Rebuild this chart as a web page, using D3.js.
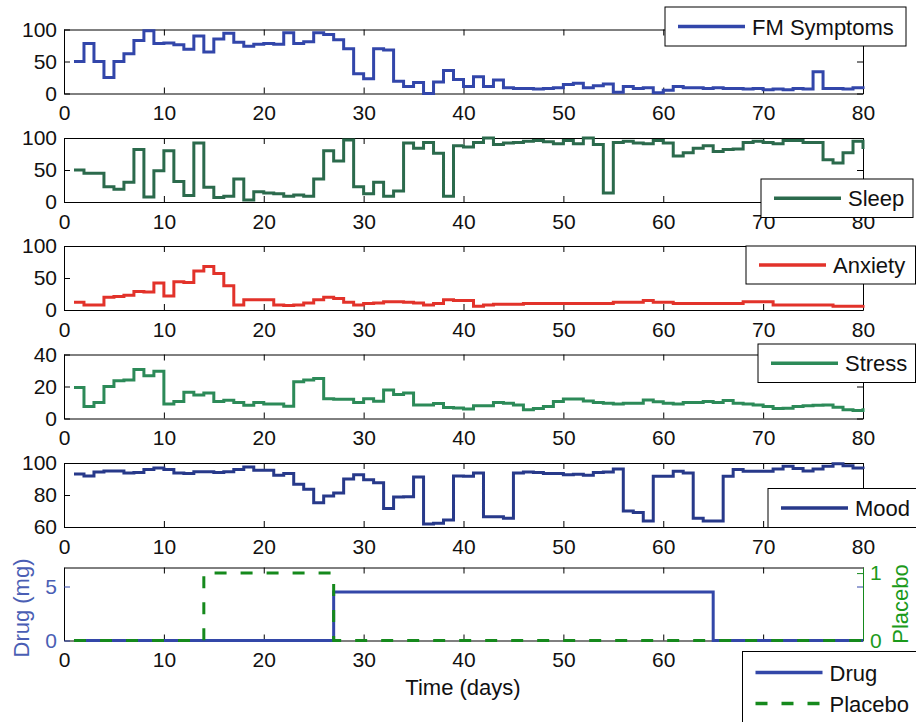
<!DOCTYPE html>
<html>
<head>
<meta charset="utf-8">
<script src="https://cdn.jsdelivr.net/npm/d3@7"></script>
<style>
  body { margin: 0; background: #fff; }
  svg text { font-family: "Liberation Sans", Arial, Helvetica, sans-serif; }
</style>
</head>
<body>
<svg id="chart" width="916" height="722"></svg>
<script>
/* Daily self-report traces (days 1..80) plus drug / placebo schedule */

const days = d3.range(1, 81);
const xTickValues = [0, 10, 20, 30, 40, 50, 60, 70, 80];
// bottom panel: 70 and 80 sit under the legend box, so they carry no label
const xTickLabelsBottom = [0, 10, 20, 30, 40, 50, 60];

const fmSymptoms = [
  50, 78, 50, 25, 50, 62, 83, 98, 78, 79,
  76, 69, 90, 65, 85, 94, 80, 74, 77, 78,
  77, 95, 78, 81, 95, 92, 84, 70, 31, 23,
  70, 68, 19, 11, 17, 0, 18, 36, 22, 11,
  26, 11, 21, 9, 8, 8, 7, 8, 9, 14,
  16, 9, 12, 15, 2, 11, 8, 9, 1, 5,
  11, 9, 9, 8, 9, 8, 8, 7, 8, 6,
  7, 6, 8, 7, 34, 8, 8, 7, 9, 7
];

const sleep = [
  50, 45, 45, 24, 20, 31, 82, 8, 49, 80,
  32, 10, 92, 23, 7, 9, 36, 3, 16, 14,
  13, 9, 11, 9, 36, 80, 64, 97, 24, 13,
  31, 9, 17, 92, 84, 93, 76, 9, 88, 86,
  93, 100, 90, 92, 93, 95, 96, 94, 91, 96,
  91, 100, 90, 14, 93, 95, 92, 91, 96, 92,
  72, 77, 84, 88, 79, 82, 83, 93, 95, 93,
  91, 96, 96, 93, 93, 66, 61, 77, 95, 83
];

const anxiety = [
  12, 8, 8, 20, 21, 23, 29, 28, 42, 22,
  44, 43, 61, 68, 57, 38, 8, 16, 16, 16,
  8, 7, 8, 11, 16, 20, 18, 12, 8, 10,
  11, 13, 13, 12, 11, 8, 10, 16, 15, 15,
  6, 8, 9, 9, 9, 10, 10, 10, 10, 10,
  10, 10, 10, 10, 12, 12, 12, 15, 12, 12,
  10, 10, 10, 10, 10, 10, 10, 13, 13, 13,
  8, 8, 8, 8, 8, 8, 6, 6, 6, 8
];

const stress = [
  19.3, 7.5, 10, 20, 23.6, 24, 30.7, 26.7, 29.6, 9,
  10.6, 16.4, 14.7, 16, 10.6, 11.4, 10, 8.3, 10, 9,
  9, 7.7, 23, 24, 25, 12.4, 12, 12, 10, 12.4,
  10.8, 17.8, 15, 16, 8.5, 8.5, 9.3, 6.8, 6.6, 6,
  7.9, 7.9, 10, 9.5, 8.5, 5.4, 6.2, 7.5, 10.6, 12.2,
  12.2, 11, 10, 9.5, 9, 9.5, 9.5, 11.6, 10.4, 9.5,
  9, 10, 10, 10.6, 10, 11.2, 9.5, 9, 8.5, 7.5,
  6.2, 6.4, 7.5, 7.9, 8.3, 8.5, 7, 5.4, 5, 6.4
];

const mood = [
  93.2, 91.9, 94.4, 95, 95, 93.8, 94, 95.9, 96.9, 95.9,
  93.8, 93.4, 94.6, 94.6, 94, 94.6, 96, 97.5, 95.4, 95.4,
  92.3, 93.4, 86.7, 83.6, 75.1, 79.3, 81.3, 90, 92.7, 89.6,
  87.6, 71.6, 78.7, 78.9, 91.3, 61.9, 62.3, 64.4, 91.9, 91.7,
  93.8, 66.4, 66.4, 65.4, 93.8, 94.4, 94, 93.4, 93.4, 92.7,
  92.9, 92.3, 94, 94.4, 96.3, 70, 69.1, 63.7, 91.7, 91.7,
  94.8, 93.8, 65.4, 63.7, 63.7, 91.7, 95.9, 94.8, 94.8, 94.8,
  96.3, 97.9, 96.5, 95, 96.3, 97.9, 99.6, 98.3, 96.9, 96.3
];

const drugMg = [
  0, 0, 0, 0, 0, 0, 0, 0, 0, 0,
  0, 0, 0, 0, 0, 0, 0, 0, 0, 0,
  0, 0, 0, 0, 0, 0, 4.5, 4.5, 4.5, 4.5,
  4.5, 4.5, 4.5, 4.5, 4.5, 4.5, 4.5, 4.5, 4.5, 4.5,
  4.5, 4.5, 4.5, 4.5, 4.5, 4.5, 4.5, 4.5, 4.5, 4.5,
  4.5, 4.5, 4.5, 4.5, 4.5, 4.5, 4.5, 4.5, 4.5, 4.5,
  4.5, 4.5, 4.5, 4.5, 0, 0, 0, 0, 0, 0,
  0, 0, 0, 0, 0, 0, 0, 0, 0, 0
];

const placebo = [
  0, 0, 0, 0, 0, 0, 0, 0, 0, 0,
  0, 0, 0, 1, 1, 1, 1, 1, 1, 1,
  1, 1, 1, 1, 1, 1, 0, 0, 0, 0,
  0, 0, 0, 0, 0, 0, 0, 0, 0, 0,
  0, 0, 0, 0, 0, 0, 0, 0, 0, 0,
  0, 0, 0, 0, 0, 0, 0, 0, 0, 0,
  0, 0, 0, 0, 0, 0, 0, 0, 0, 0,
  0, 0, 0, 0, 0, 0, 0, 0, 0, 0
];

// colours
const cFM = "#3246aa", cSleep = "#2b6a4c", cAnx = "#e2322a",
  cStress = "#2c8a58", cMood = "#27398a", cDrug = "#3347a8", cPlacebo = "#15891c";

const svg = d3.select("#chart");
const x = d3.scaleLinear().domain([0, 80]).range([64, 863]);

// panel layout: top/bottom pixel, y domain, ticks, legend box
const panels = [
  { name: "FM Symptoms", values: fmSymptoms, color: cFM, top: 29.5, bottom: 93.5,
    domain: [0, 100], ticks: [0, 50, 100], box: [665, 7, 241, 39] },
  { name: "Sleep", values: sleep, color: cSleep, top: 138, bottom: 202,
    domain: [0, 100], ticks: [0, 50, 100], box: [761, 179, 152, 38.5] },
  { name: "Anxiety", values: anxiety, color: cAnx, top: 246, bottom: 310,
    domain: [0, 100], ticks: [0, 50, 100], box: [746, 246, 169.5, 38] },
  { name: "Stress", values: stress, color: cStress, top: 354.5, bottom: 418.5,
    domain: [0, 40], ticks: [0, 20, 40], box: [758, 344, 157.5, 38.5] },
  { name: "Mood", values: mood, color: cMood, top: 463, bottom: 527,
    domain: [60, 100], ticks: [60, 80, 100], box: [768, 488.5, 160, 39] }
];

const stairs = (yScale) => d3.line()
  .x((d) => x(d[0]))
  .y((d) => yScale(d[1]))
  .curve(d3.curveStepAfter);

function drawFrame(g, y, top, bottom, ticks, showLabels, xLabels) {
  const labelSet = xLabels || xTickValues;
  g.append("g")
    .attr("transform", `translate(0,${bottom})`)
    .call(d3.axisBottom(x).tickValues(xTickValues).tickSize(-6).tickSizeOuter(0).tickPadding(12)
      .tickFormat((d) => (labelSet.includes(d) ? d : "")));
  g.append("g")
    .attr("transform", `translate(0,${top})`)
    .call(d3.axisTop(x).tickValues(xTickValues).tickSize(-6).tickSizeOuter(0).tickFormat(""));
  if (showLabels) {
    g.append("g")
      .attr("transform", `translate(${x(0)},0)`)
      .call(d3.axisLeft(y).tickValues(ticks).tickSize(-6).tickSizeOuter(0).tickPadding(7));
    g.append("g")
      .attr("transform", `translate(${x(80)},0)`)
      .call(d3.axisRight(y).tickValues(ticks).tickSize(-6).tickSizeOuter(0).tickFormat(""));
  }
}

function styleAxes(g) {
  g.selectAll(".domain").attr("stroke", "#000").attr("stroke-width", 1);
  g.selectAll(".tick line").attr("stroke", "#000").attr("stroke-width", 1);
  g.selectAll(".tick text").attr("font-size", 21).attr("fill", "#111")
    .attr("font-family", '"Liberation Sans", Arial, sans-serif');
  g.selectAll(".tick text").filter(function () { return this.textContent === ""; }).remove();
}

function drawLegend(box, items) {
  const [bx, by, bw, bh] = box;
  const lg = svg.append("g");
  lg.append("rect").attr("x", bx).attr("y", by).attr("width", bw).attr("height", bh)
    .attr("fill", "#fff").attr("stroke", "#000").attr("stroke-width", 1);
  items.forEach((it) => {
    const ly = it.ly != null ? it.ly : by + bh / 2;
    lg.append("line")
      .attr("x1", bx + 13).attr("x2", bx + 80).attr("y1", ly).attr("y2", ly)
      .attr("stroke", it.color).attr("stroke-width", 3.5)
      .attr("stroke-dasharray", it.dash || null);
    lg.append("text")
      .attr("x", bx + 87).attr("y", ly + 8)
      .attr("font-size", 22).attr("fill", "#111")
      .text(it.label);
  });
}

// symptom panels
panels.forEach((p) => {
  const y = d3.scaleLinear().domain(p.domain).range([p.bottom, p.top]);
  const g = svg.append("g");
  drawFrame(g, y, p.top, p.bottom, p.ticks, true);
  styleAxes(g);
  g.append("path")
    .datum(days.map((d, i) => [d, p.values[i]]))
    .attr("fill", "none")
    .attr("stroke", p.color)
    .attr("stroke-width", 3)
    .attr("d", stairs(y));
});

// drug / placebo panel (two y axes)
const pTop = 567.5, pBottom = 640.5;
const yDrug = d3.scaleLinear().domain([0, 6.76]).range([pBottom, pTop]);
const yPlac = d3.scaleLinear().domain([0, 1.083]).range([pBottom, pTop]);
const g6 = svg.append("g");
drawFrame(g6, yDrug, pTop, pBottom, [0, 5], false, xTickLabelsBottom);
styleAxes(g6);

const leftAx = g6.append("g")
  .attr("transform", `translate(${x(0)},0)`)
  .call(d3.axisLeft(yDrug).tickValues([0, 5]).tickFormat(d3.format("d"))
    .tickSize(-6).tickSizeOuter(0).tickPadding(7));
leftAx.selectAll(".domain").attr("stroke", "#000");
leftAx.selectAll(".tick line").attr("stroke", cDrug);
leftAx.selectAll(".tick text").attr("font-size", 21).attr("fill", "#4a5eb4");

const rightDrug = g6.append("g")
  .attr("transform", `translate(${x(80)},0)`)
  .call(d3.axisRight(yDrug).tickValues([5]).tickSize(-6).tickSizeOuter(0).tickFormat(""));
rightDrug.selectAll(".domain").remove();
rightDrug.selectAll(".tick text").remove();
rightDrug.selectAll(".tick line").attr("stroke", cDrug);

const rightAx = g6.append("g")
  .attr("transform", `translate(${x(80)},0)`)
  .call(d3.axisRight(yPlac).tickValues([0, 1]).tickFormat(d3.format("d"))
    .tickSize(-6).tickSizeOuter(0).tickPadding(7));
rightAx.selectAll(".domain").attr("stroke", cPlacebo);
rightAx.selectAll(".tick line").attr("stroke", cPlacebo);
rightAx.selectAll(".tick text").attr("font-size", 21).attr("fill", "#1b9a1b");

g6.append("path")
  .datum(days.map((d, i) => [d, drugMg[i]]))
  .attr("fill", "none").attr("stroke", cDrug).attr("stroke-width", 3)
  .attr("d", stairs(yDrug));

g6.append("path")
  .datum(days.map((d, i) => [d, placebo[i]]))
  .attr("fill", "none").attr("stroke", cPlacebo).attr("stroke-width", 3)
  .attr("stroke-dasharray", "12,14")
  .attr("d", stairs(yPlac));

svg.append("text")
  .attr("transform", "translate(29,608) rotate(-90)")
  .attr("text-anchor", "middle").attr("font-size", 22).attr("fill", "#4a5eb4")
  .text("Drug (mg)");

svg.append("text")
  .attr("transform", "translate(908,604) rotate(-90)")
  .attr("text-anchor", "middle").attr("font-size", 22).attr("fill", "#1b9a1b")
  .text("Placebo");

svg.append("text")
  .attr("x", 463).attr("y", 695)
  .attr("text-anchor", "middle").attr("font-size", 22).attr("fill", "#111")
  .text("Time (days)");

// legends on top
panels.forEach((p) => drawLegend(p.box, [{ label: p.name, color: p.color }]));
drawLegend([742.5, 651.5, 180, 80], [
  { label: "Drug", color: cDrug, ly: 672.5 },
  { label: "Placebo", color: cPlacebo, ly: 703.5, dash: "12,14" }
]);
</script>
</body>
</html>
